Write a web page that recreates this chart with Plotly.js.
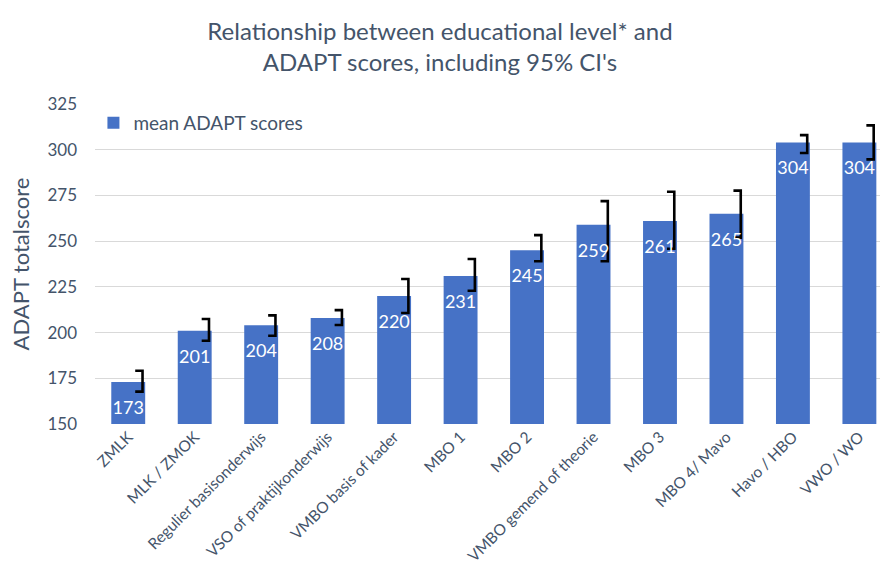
<!DOCTYPE html>
<html>
<head>
<meta charset="utf-8">
<script src="https://cdn.plot.ly/plotly-3.0.1.min.js"></script>
<style>html,body{margin:0;padding:0;background:#fff;}#chart{width:880px;height:576px;}</style>
</head>
<body>
<div id="chart"></div>
<script>
const categories = ["ZMLK", "MLK / ZMOK", "Regulier basisonderwijs", "VSO of praktijkonderwijs", "VMBO basis of kader", "MBO 1", "MBO 2", "VMBO gemend of theorie", "MBO 3", "MBO 4/ Mavo", "Havo / HBO", "VWO / WO"];
const meanScores = [173, 201, 204, 208, 220, 231, 245, 259, 261, 265, 304, 304];
const ciLow = [167.7, 195.5, 198.3, 204.1, 210.7, 222.9, 239, 239, 245.8, 251.9, 298.2, 294.7];
const ciHigh = [179.1, 207.4, 209.4, 212.3, 229.3, 240.2, 253.3, 271.9, 277, 277.6, 308, 313.3];
const yTicks = [150, 175, 200, 225, 250, 275, 300, 325];

const FONT = "Lato, 'Open Sans', sans-serif";
const TXT = "#44546a";
const LABEL_DROP = 15; // data label sits this far (in score units) below the bar top
const idx = categories.map((_, i) => i);

// bracket-shaped CI markers at the right side of each bar
const bx = [], by = [];
idx.forEach(i => {
  bx.push(i + 0.105, i + 0.215, i + 0.215, i + 0.105, null);
  by.push(ciHigh[i], ciHigh[i], ciLow[i], ciLow[i], null);
});

const traces = [
  {
    type: "bar",
    x: idx,
    y: meanScores,
    name: "mean ADAPT scores",
    width: 0.51,
    marker: {color: "#4672c6"},
    hoverinfo: "x+y"
  },
  {
    type: "scatter",
    mode: "lines",
    x: bx,
    y: by,
    line: {color: "#000000", width: 2.6},
    showlegend: false,
    hoverinfo: "skip"
  },
  {
    type: "scatter",
    mode: "text",
    x: idx,
    y: meanScores.map(v => v - LABEL_DROP),
    text: meanScores.map(String),
    textposition: "middle center",
    textfont: {color: "#ffffff", size: 18, family: FONT},
    showlegend: false,
    hoverinfo: "skip"
  }
];

const layout = {
  width: 880,
  height: 576,
  margin: {l: 95, r: 0, t: 104, b: 152},
  paper_bgcolor: "#ffffff",
  plot_bgcolor: "#ffffff",
  font: {family: FONT, color: TXT},
  title: {
    text: "Relationship between educational level* and<br>ADAPT scores, including 95% CI's",
    font: {size: 24, color: TXT, family: FONT},
    x: 0.5,
    xref: "container",
    yref: "container",
    y: 1 - 40 / 576,
    yanchor: "middle"
  },
  showlegend: true,
  legend: {
    x: -0.002,
    y: 1.0,
    xanchor: "left",
    yanchor: "top",
    font: {size: 19, color: TXT, family: FONT},
    bgcolor: "rgba(0,0,0,0)",
    itemwidth: 30
  },
  xaxis: {
    range: [-0.5, 11.31],
    tickmode: "array",
    tickvals: idx,
    ticktext: categories,
    tickangle: -45,
    tickfont: {size: 15.5, color: TXT, family: FONT},
    showgrid: false,
    zeroline: false,
    showline: false,
    ticks: ""
  },
  yaxis: {
    range: [150, 325],
    tickmode: "array",
    tickvals: yTicks,
    ticktext: yTicks.map(String),
    tickfont: {size: 17, color: TXT, family: FONT},
    gridcolor: "#d9d9d9",
    gridwidth: 1,
    zeroline: false,
    showline: false,
    ticks: "",
    ticklabelstandoff: 17,
    title: {text: "ADAPT totalscore", font: {size: 22, color: TXT, family: FONT}, standoff: 11}
  },
  bargap: 0.49
};

Plotly.newPlot("chart", traces, layout, {displayModeBar: false, staticPlot: true});
</script>
</body>
</html>
